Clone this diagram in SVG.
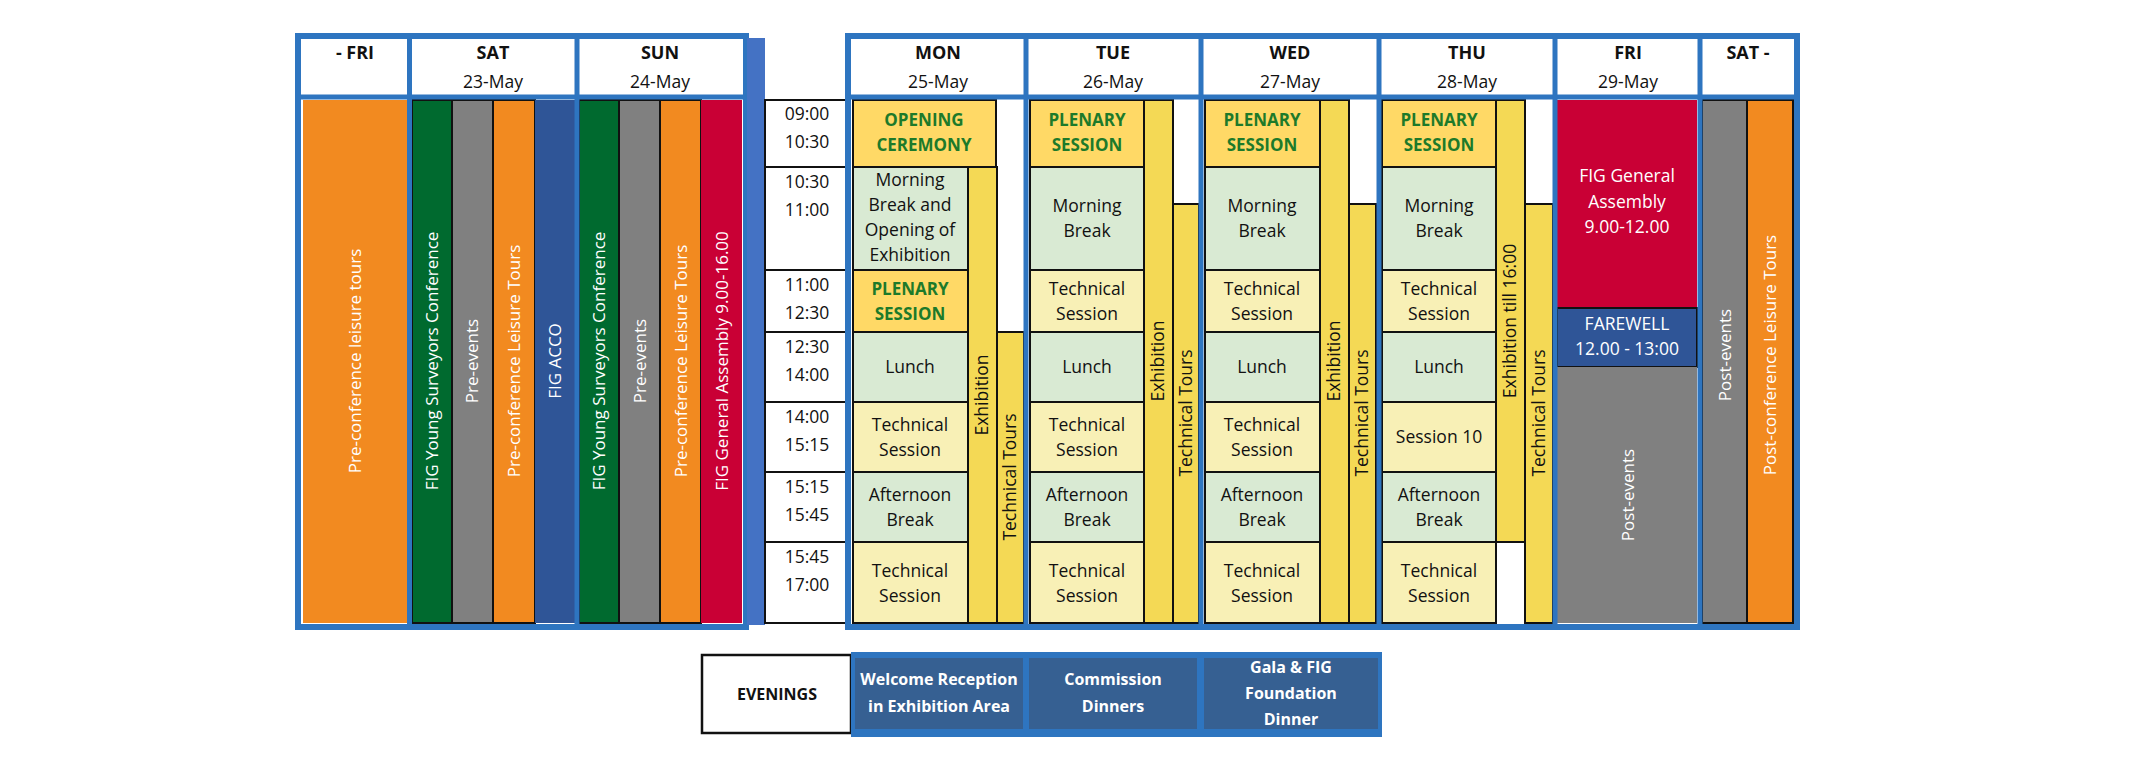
<svg xmlns="http://www.w3.org/2000/svg" width="2145" height="769" viewBox="0 0 2145 769">
<style>
text{font-family:"Open Sans","DejaVu Sans",sans-serif;font-size:17.5px;fill:#111;text-anchor:middle}
.hd{font-weight:bold;font-size:18px}
.w{fill:#fff}
.g{fill:#1d7a2a;font-weight:bold;font-size:17px}
.v{font-size:17px}
.c{stroke:#111;stroke-width:2}
.or{fill:#F28A20}.dg{fill:#006A2F}.gr{fill:#808080}.bl{fill:#2F5597}.rd{fill:#C90035}
.yl{fill:#FFD966}.lg{fill:#D9EAD3}.ly{fill:#F8F0B6}.ex{fill:#F4D955}.wh{fill:#fff}
.ob{fill:none;stroke:#2E75C0;stroke-width:6}
.dv{stroke:#2E75C0;stroke-width:5}
.ev{fill:#366092}
.eb{font-weight:bold;font-size:16px}
</style>
<rect width="2145" height="769" fill="#fff"/>
<g id="left">
<rect x="298" y="36" width="448" height="591" fill="#fff"/>
<g id="pre-fri"><rect class="or" x="303" y="100" width="104" height="523"/><text class="w v" y="6" transform="translate(355,361) rotate(-90)">Pre-conference leisure tours</text></g>
<g id="sat-cols">
<rect class="dg c" x="412" y="100" width="40" height="523"/><text class="w v" y="6" transform="translate(432,361) rotate(-90)">FIG Young Surveyors Conference</text>
<rect class="gr c" x="452" y="100" width="41" height="523"/><text class="w v" y="6" transform="translate(472,361) rotate(-90)">Pre-events</text>
<rect class="or c" x="493" y="100" width="42" height="523"/><text class="w v" y="6" transform="translate(514,361) rotate(-90)">Pre-conference Leisure Tours</text>
<rect class="bl" x="535" y="100" width="40" height="523"/><text class="w v" y="6" transform="translate(555,361) rotate(-90)">FIG ACCO</text>
</g>
<g id="sun-cols">
<rect class="dg c" x="579" y="100" width="40" height="523"/><text class="w v" y="6" transform="translate(599,361) rotate(-90)">FIG Young Surveyors Conference</text>
<rect class="gr c" x="619" y="100" width="41" height="523"/><text class="w v" y="6" transform="translate(640,361) rotate(-90)">Pre-events</text>
<rect class="or c" x="660" y="100" width="41" height="523"/><text class="w v" y="6" transform="translate(681,361) rotate(-90)">Pre-conference Leisure Tours</text>
<rect class="rd" x="701" y="100" width="41" height="523"/><text class="w v" y="6" transform="translate(722,361) rotate(-90)">FIG General Assembly 9.00-16.00</text>
</g>
<line class="dv" x1="298" y1="97" x2="746" y2="97"/>
<line class="dv" x1="409.5" y1="36" x2="409.5" y2="627"/>
<line class="dv" x1="577" y1="36" x2="577" y2="627"/>
<rect class="ob" x="298" y="36" width="448" height="591"/>
<text class="hd" x="355" y="59">- FRI</text>
<text class="hd" x="493" y="59">SAT</text><text x="493" y="88">23-May</text>
<text class="hd" x="660" y="59">SUN</text><text x="660" y="88">24-May</text>
</g>
<rect x="747" y="38" width="18" height="587" fill="#4472C4"/>
<g id="times">
<rect class="wh c" x="765" y="100" width="85" height="67"/><rect class="wh c" x="765" y="167" width="85" height="103"/><rect class="wh c" x="765" y="270" width="85" height="62"/><rect class="wh c" x="765" y="332" width="85" height="70"/><rect class="wh c" x="765" y="402" width="85" height="70"/><rect class="wh c" x="765" y="472" width="85" height="70"/><rect class="wh c" x="765" y="542" width="85" height="81"/>
<text x="807" y="120">09:00</text><text x="807" y="148">10:30</text>
<text x="807" y="188">10:30</text><text x="807" y="216">11:00</text>
<text x="807" y="291">11:00</text><text x="807" y="319">12:30</text>
<text x="807" y="353">12:30</text><text x="807" y="381">14:00</text>
<text x="807" y="423">14:00</text><text x="807" y="451">15:15</text>
<text x="807" y="493">15:15</text><text x="807" y="521">15:45</text>
<text x="807" y="563">15:45</text><text x="807" y="591">17:00</text>
</g>
<g id="right">
<rect x="848" y="36" width="949" height="591" fill="#fff"/>
<g id="mon">
<rect class="yl c" x="853" y="100" width="143" height="67"/><text class="g" x="924" y="126">OPENING</text><text class="g" x="924" y="151">CEREMONY</text>
<rect class="lg c" x="853" y="167" width="115" height="103"/><text x="910" y="186">Morning</text><text x="910" y="211">Break and</text><text x="910" y="236">Opening of</text><text x="910" y="261">Exhibition</text>
<rect class="yl c" x="853" y="270" width="115" height="62"/><text class="g" x="910" y="295">PLENARY</text><text class="g" x="910" y="320">SESSION</text>
<rect class="lg c" x="853" y="332" width="115" height="70"/><text x="910" y="373">Lunch</text>
<rect class="ly c" x="853" y="402" width="115" height="70"/><text x="910" y="431">Technical</text><text x="910" y="456">Session</text>
<rect class="lg c" x="853" y="472" width="115" height="70"/><text x="910" y="501">Afternoon</text><text x="910" y="526">Break</text>
<rect class="ly c" x="853" y="542" width="115" height="81"/><text x="910" y="577">Technical</text><text x="910" y="602">Session</text>
<rect class="ex c" x="968" y="167" width="29" height="456"/><text y="6" transform="translate(982,395) rotate(-90)">Exhibition</text>
<rect class="ex c" x="997" y="332" width="27" height="291"/><text y="6" transform="translate(1010,477) rotate(-90)">Technical Tours</text>
</g>
<g id="tue">
<rect class="yl c" x="1030" y="100" width="114" height="67"/><text class="g" x="1087" y="126">PLENARY</text><text class="g" x="1087" y="151">SESSION</text>
<rect class="lg c" x="1030" y="167" width="114" height="103"/><text x="1087" y="212">Morning</text><text x="1087" y="237">Break</text>
<rect class="ly c" x="1030" y="270" width="114" height="62"/><text x="1087" y="295">Technical</text><text x="1087" y="320">Session</text>
<rect class="lg c" x="1030" y="332" width="114" height="70"/><text x="1087" y="373">Lunch</text>
<rect class="ly c" x="1030" y="402" width="114" height="70"/><text x="1087" y="431">Technical</text><text x="1087" y="456">Session</text>
<rect class="lg c" x="1030" y="472" width="114" height="70"/><text x="1087" y="501">Afternoon</text><text x="1087" y="526">Break</text>
<rect class="ly c" x="1030" y="542" width="114" height="81"/><text x="1087" y="577">Technical</text><text x="1087" y="602">Session</text>
<rect class="ex c" x="1144" y="100" width="29" height="523"/><text y="6" transform="translate(1158,361) rotate(-90)">Exhibition</text>
<rect class="ex c" x="1173" y="204" width="26" height="419"/><text y="6" transform="translate(1186,413) rotate(-90)">Technical Tours</text>
</g>
<g id="wed">
<rect class="yl c" x="1205" y="100" width="115" height="67"/><text class="g" x="1262" y="126">PLENARY</text><text class="g" x="1262" y="151">SESSION</text>
<rect class="lg c" x="1205" y="167" width="115" height="103"/><text x="1262" y="212">Morning</text><text x="1262" y="237">Break</text>
<rect class="ly c" x="1205" y="270" width="115" height="62"/><text x="1262" y="295">Technical</text><text x="1262" y="320">Session</text>
<rect class="lg c" x="1205" y="332" width="115" height="70"/><text x="1262" y="373">Lunch</text>
<rect class="ly c" x="1205" y="402" width="115" height="70"/><text x="1262" y="431">Technical</text><text x="1262" y="456">Session</text>
<rect class="lg c" x="1205" y="472" width="115" height="70"/><text x="1262" y="501">Afternoon</text><text x="1262" y="526">Break</text>
<rect class="ly c" x="1205" y="542" width="115" height="81"/><text x="1262" y="577">Technical</text><text x="1262" y="602">Session</text>
<rect class="ex c" x="1320" y="100" width="29" height="523"/><text y="6" transform="translate(1334,361) rotate(-90)">Exhibition</text>
<rect class="ex c" x="1349" y="204" width="27" height="419"/><text y="6" transform="translate(1362,413) rotate(-90)">Technical Tours</text>
</g>
<g id="thu">
<rect class="yl c" x="1382" y="100" width="114" height="67"/><text class="g" x="1439" y="126">PLENARY</text><text class="g" x="1439" y="151">SESSION</text>
<rect class="lg c" x="1382" y="167" width="114" height="103"/><text x="1439" y="212">Morning</text><text x="1439" y="237">Break</text>
<rect class="ly c" x="1382" y="270" width="114" height="62"/><text x="1439" y="295">Technical</text><text x="1439" y="320">Session</text>
<rect class="lg c" x="1382" y="332" width="114" height="70"/><text x="1439" y="373">Lunch</text>
<rect class="ly c" x="1382" y="402" width="114" height="70"/><text x="1439" y="443">Session 10</text>
<rect class="lg c" x="1382" y="472" width="114" height="70"/><text x="1439" y="501">Afternoon</text><text x="1439" y="526">Break</text>
<rect class="ly c" x="1382" y="542" width="114" height="81"/><text x="1439" y="577">Technical</text><text x="1439" y="602">Session</text>
<rect class="ex c" x="1496" y="100" width="29" height="442"/><text y="6" transform="translate(1510,321) rotate(-90)">Exhibition till 16:00</text>
<rect class="ex c" x="1525" y="204" width="28" height="419"/><text y="6" transform="translate(1539,413) rotate(-90)">Technical Tours</text>
</g>
<g id="fri">
<rect class="rd" x="1557" y="100" width="140" height="208"/><text class="w" x="1627" y="182">FIG General</text><text class="w" x="1627" y="208">Assembly</text><text class="w" x="1627" y="233">9.00-12.00</text>
<rect class="bl" x="1557" y="308" width="140" height="59" stroke="#111" stroke-width="2"/><text class="w" x="1627" y="330">FAREWELL</text><text class="w" x="1627" y="355">12.00 - 13:00</text>
<rect class="gr" x="1557" y="367" width="140" height="256"/><text class="w v" y="6" transform="translate(1628,495) rotate(-90)">Post-events</text>
</g>
<g id="sat">
<rect class="gr c" x="1702" y="100" width="45" height="523"/><text class="w v" y="6" transform="translate(1725,355) rotate(-90)">Post-events</text>
<rect class="or c" x="1747" y="100" width="46" height="523"/><text class="w v" y="6" transform="translate(1770,355) rotate(-90)">Post-conference Leisure Tours</text>
</g>
<line class="dv" x1="848" y1="97" x2="1797" y2="97"/>
<line class="dv" x1="1026" y1="36" x2="1026" y2="627"/>
<line class="dv" x1="1201" y1="36" x2="1201" y2="627"/>
<line class="dv" x1="1379" y1="36" x2="1379" y2="627"/>
<line class="dv" x1="1555" y1="36" x2="1555" y2="627"/>
<line class="dv" x1="1700" y1="36" x2="1700" y2="627"/>
<rect class="ob" x="848" y="36" width="949" height="591"/>
<text class="hd" x="938" y="59">MON</text><text x="938" y="88">25-May</text>
<text class="hd" x="1113" y="59">TUE</text><text x="1113" y="88">26-May</text>
<text class="hd" x="1290" y="59">WED</text><text x="1290" y="88">27-May</text>
<text class="hd" x="1467" y="59">THU</text><text x="1467" y="88">28-May</text>
<text class="hd" x="1628" y="59">FRI</text><text x="1628" y="88">29-May</text>
<text class="hd" x="1748" y="59">SAT -</text>
</g>
<g id="evenings">
<rect x="702" y="655" width="149" height="78" fill="#fff" stroke="#111" stroke-width="2.5"/>
<text class="eb" x="777" y="700">EVENINGS</text>
<rect x="851" y="652" width="531" height="85" fill="#2E75C0"/>
<rect class="ev" x="855" y="658" width="168" height="71"/><rect class="ev" x="1029" y="658" width="168" height="71"/><rect class="ev" x="1204" y="658" width="174" height="71"/>
<text class="eb w" x="939" y="685">Welcome Reception</text><text class="eb w" x="939" y="712">in Exhibition Area</text>
<text class="eb w" x="1113" y="685">Commission</text><text class="eb w" x="1113" y="712">Dinners</text>
<text class="eb w" x="1291" y="673">Gala &amp; FIG</text><text class="eb w" x="1291" y="699">Foundation</text><text class="eb w" x="1291" y="725">Dinner</text>
</g>
</svg>
